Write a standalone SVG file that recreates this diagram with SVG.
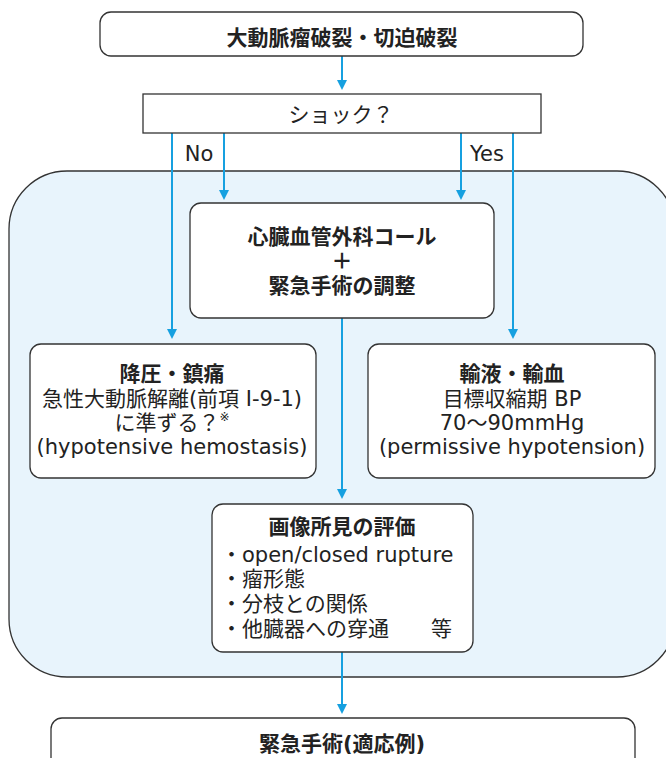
<svg xmlns="http://www.w3.org/2000/svg" width="666" height="758" viewBox="0 0 666 758">
<style>
.box{fill:#fff;stroke:#333;stroke-width:1.3}
.panel{fill:#E8F4FC;stroke:#333;stroke-width:1.3}
.t{font-family:"DejaVu Sans","Noto Sans CJK JP",sans-serif;font-size:21px;fill:#222;text-anchor:middle}
.b{font-weight:bold}
.l{text-anchor:start}
.c{fill:none;stroke:#16A0E0;stroke-width:2}
</style>
<defs>
<marker id="ah" markerUnits="userSpaceOnUse" markerWidth="11" markerHeight="11" refX="5" refY="5" orient="auto" viewBox="0 0 11 10">
<path d="M0,0 L10,5 L0,10 z" fill="#16A0E0"/>
</marker>
</defs>
<rect class="panel" x="9" y="171" width="666" height="506" rx="58" ry="58"/>
<g id="connectors">
<path class="c" d="M342,56 V85" marker-end="url(#ah)"/>
<path class="c" d="M224,133 V195" marker-end="url(#ah)"/>
<path class="c" d="M461,133 V195" marker-end="url(#ah)"/>
<path class="c" d="M172,133 V334" marker-end="url(#ah)"/>
<path class="c" d="M513,133 V334" marker-end="url(#ah)"/>
<path class="c" d="M342,318 V494" marker-end="url(#ah)"/>
<path class="c" d="M342,652 V709" marker-end="url(#ah)"/>
<text class="t" x="199" y="161">No</text>
<text class="t" x="487" y="161">Yes</text>
</g>
<g id="n-top">
<rect class="box" x="100" y="12" width="483" height="44" rx="11"/>
<text class="t b" x="342" y="45">大動脈瘤破裂・切迫破裂</text>
</g>
<g id="n-shock">
<rect class="box" x="143" y="94" width="398" height="39"/>
<text class="t" x="341" y="122">ショック？</text>
</g>
<g id="n-surgery-call">
<rect class="box" x="190" y="203" width="304" height="115" rx="11"/>
<text class="t b" x="342" y="244">心臓血管外科コール</text>
<text class="t b" x="342" y="268">＋</text>
<text class="t b" x="342" y="293">緊急手術の調整</text>
</g>
<g id="n-left">
<rect class="box" x="30" y="344" width="286" height="134" rx="11"/>
<text class="t b" x="172" y="381">降圧・鎮痛</text>
<text class="t" x="172" y="406">急性大動脈解離(前項 I-9-1)</text>
<text class="t" x="172" y="430">に準ずる？<tspan font-size="12" dy="-9">※</tspan></text>
<text class="t" x="172" y="454">(hypotensive hemostasis)</text>
</g>
<g id="n-right">
<rect class="box" x="368" y="344" width="287" height="134" rx="11"/>
<text class="t b" x="512" y="381">輸液・輸血</text>
<text class="t" x="512" y="406">目標収縮期 BP</text>
<text class="t" x="512" y="430">70〜90mmHg</text>
<text class="t" x="512" y="454">(permissive hypotension)</text>
</g>
<g id="n-imaging">
<rect class="box" x="212" y="504" width="261" height="148" rx="11"/>
<text class="t b" x="342" y="534">画像所見の評価</text>
<text class="t l" x="221" y="562">・open/closed rupture</text>
<text class="t l" x="221" y="586">・瘤形態</text>
<text class="t l" x="221" y="611">・分枝との関係</text>
<text class="t l" x="221" y="636">・他臓器への穿通　　等</text>
</g>
<g id="n-bottom">
<rect class="box" x="51" y="718" width="584" height="60" rx="11"/>
<text class="t b" x="342" y="751">緊急手術(適応例)</text>
</g>
</svg>
